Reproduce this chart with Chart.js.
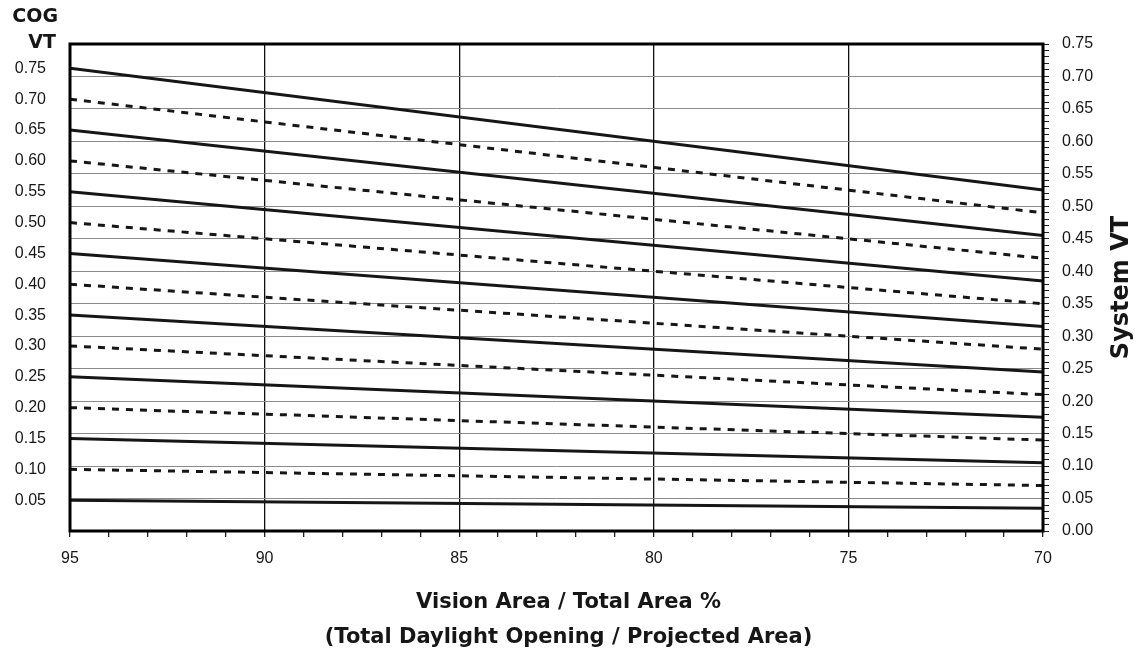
<!DOCTYPE html>
<html lang="en">
<head>
    <meta charset="UTF-8">
    <title>System VT vs Vision Area</title>
    <script src="https://cdn.jsdelivr.net/npm/chart.js"></script>
    <style>
        body { margin: 0; background: #fff; }
        .chart-box { width: 1141px; height: 652px; position: relative; }
    </style>
</head>
<body>
    <div class="chart-box">
        <canvas id="vtChart"></canvas>
    </div>

    <script>
        // Vision area / total area % at the two ends of every line
        const visionPct = [95, 70];
        // Centre-of-glass VT for each line (top to bottom)
        const cogLabels = ['0.75', '0.70', '0.65', '0.60', '0.55', '0.50', '0.45', '0.40',
                           '0.35', '0.30', '0.25', '0.20', '0.15', '0.10', '0.05'];
        // System VT read at 95 % and at 70 %
        const systemVT95 = [0.7125, 0.665, 0.6175, 0.57, 0.5225, 0.475, 0.4275, 0.38,
                            0.3325, 0.285, 0.2375, 0.19, 0.1425, 0.095, 0.0475];
        const systemVT70 = [0.525, 0.49, 0.455, 0.42, 0.385, 0.35, 0.315, 0.28,
                            0.245, 0.21, 0.175, 0.14, 0.105, 0.07, 0.035];
        // Labelled ticks
        const xTickLabels = [95, 90, 85, 80, 75, 70];
        const systemTickLabels = ['0.00', '0.05', '0.10', '0.15', '0.20', '0.25', '0.30', '0.35',
                                  '0.40', '0.45', '0.50', '0.55', '0.60', '0.65', '0.70', '0.75'];

        const FONT = "'DejaVu Sans', 'Liberation Sans', Arial, sans-serif";
        const TICK_FONT = "'Liberation Sans', Arial, sans-serif";
        const INK = '#161616';

        const datasets = cogLabels.map((cog, i) => ({
            label: 'COG VT ' + cog,
            data: [
                { x: visionPct[0], y: systemVT95[i] },
                { x: visionPct[1], y: systemVT70[i] }
            ],
            borderColor: INK,
            borderWidth: 3,
            borderDash: i % 2 === 1 ? [7, 7] : [],
            borderCapStyle: 'butt',
            pointRadius: 0,
            fill: false,
            tension: 0
        }));

        // frame round the plot plus the free-standing texts
        const framePlugin = {
            id: 'frame',
            afterDraw(chart) {
                const { ctx, chartArea: a, scales } = chart;
                ctx.save();
                ctx.strokeStyle = '#000';
                ctx.lineWidth = 3;
                ctx.strokeRect(a.left, a.top, a.right - a.left, a.bottom - a.top);

                ctx.fillStyle = INK;
                ctx.font = 'bold 19px ' + FONT;
                ctx.textAlign = 'right';
                ctx.textBaseline = 'middle';
                const rx = scales.yl.right - 14;
                ctx.fillText('COG', rx + 2, 17);
                ctx.fillText('VT', rx, 43);

                // x axis title, sits a little right of the plot centre
                const cx = (a.left + a.right) / 2 + 12;
                ctx.textAlign = 'center';
                ctx.font = 'bold 21px ' + FONT;
                ctx.fillText('Vision Area / Total Area %', cx, 603);
                ctx.fillText('(Total Daylight Opening / Projected Area)', cx, 638);

                ctx.font = 'bold 24px ' + FONT;
                ctx.translate(chart.width - 19, (a.top + a.bottom) / 2);
                ctx.rotate(-Math.PI / 2);
                ctx.fillText('System VT', 0, 0);
                ctx.restore();
            }
        };

        const isMajor = v => Math.round(v * 100) % 5 === 0;

        const config = {
            type: 'line',
            data: { datasets: datasets },
            options: {
                responsive: true,
                maintainAspectRatio: false,
                animation: false,
                layout: { padding: { top: 44, left: 0, right: 0, bottom: 0 } },
                plugins: {
                    legend: { display: false },
                    tooltip: { enabled: false }
                },
                scales: {
                    x: {
                        type: 'linear',
                        min: 70,
                        max: 95,
                        reverse: true,
                        afterFit: axis => { axis.height = 121; },
                        border: { display: false },
                        grid: {
                            color: ctx => (xTickLabels.includes(ctx.tick.value) ? '#111' : 'rgba(0,0,0,0)'),
                            lineWidth: 1.3,
                            tickColor: '#222',
                            tickLength: 6
                        },
                        ticks: {
                            stepSize: 1,
                            autoSkip: false,
                            maxRotation: 0,
                            padding: 12,
                            color: INK,
                            font: { family: TICK_FONT, size: 16 },
                            callback: v => (xTickLabels.includes(v) ? String(v) : '')
                        }
                    },
                    yl: {
                        type: 'linear',
                        position: 'left',
                        min: 0,
                        max: 0.75,
                        afterFit: axis => { axis.width = 70; },
                        afterBuildTicks: axis => {
                            axis.ticks = systemVT95.map(v => ({ value: v }));
                        },
                        border: { display: false },
                        grid: { display: false },
                        ticks: {
                            padding: 16,
                            color: INK,
                            font: { family: TICK_FONT, size: 16 },
                            callback: (v, i) => cogLabels[i]
                        }
                    },
                    y: {
                        type: 'linear',
                        position: 'right',
                        min: 0,
                        max: 0.75,
                        afterFit: axis => { axis.width = 98; },
                        border: { display: false },
                        grid: {
                            color: ctx => (isMajor(ctx.tick.value) ? '#8a8a8a' : 'rgba(0,0,0,0)'),
                            lineWidth: 1,
                            tickColor: '#222',
                            tickLength: 6
                        },
                        ticks: {
                            stepSize: 0.01,
                            autoSkip: false,
                            padding: 13,
                            color: INK,
                            font: { family: TICK_FONT, size: 16 },
                            callback: v => (isMajor(v) ? systemTickLabels[Math.round(v * 20)] : '')
                        }
                    }
                }
            },
            plugins: [framePlugin]
        };

        const vtChart = new Chart(document.getElementById('vtChart'), config);
    </script>
</body>
</html>
